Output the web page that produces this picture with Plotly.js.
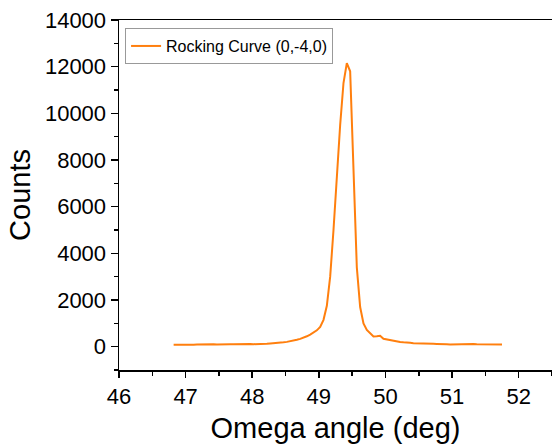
<!DOCTYPE html>
<html>
<head>
<meta charset="utf-8">
<script src="https://cdn.plot.ly/plotly-3.0.1.min.js"></script>
<style>html,body{margin:0;padding:0;background:#fff;}#chart{width:552px;height:447px;}</style>
</head>
<body>
<div id="chart"></div>
<script>
const seriesName = "Rocking Curve (0,-4,0)";
const omega = [46.82,46.87,46.92,46.97,47.02,47.07,47.12,47.17,47.22,47.27,47.32,47.37,47.42,47.47,47.52,47.57,47.62,47.67,47.72,47.77,47.82,47.87,47.92,47.97,48.02,48.07,48.12,48.17,48.22,48.27,48.32,48.37,48.42,48.47,48.52,48.57,48.62,48.67,48.72,48.77,48.82,48.87,48.92,48.97,49.02,49.07,49.12,49.17,49.22,49.27,49.32,49.37,49.42,49.47,49.52,49.57,49.62,49.67,49.72,49.77,49.82,49.87,49.92,49.97,50.02,50.07,50.12,50.17,50.22,50.27,50.32,50.37,50.42,50.47,50.52,50.57,50.62,50.67,50.72,50.77,50.82,50.87,50.92,50.97,51.02,51.07,51.12,51.17,51.22,51.27,51.32,51.37,51.42,51.47,51.52,51.57,51.62,51.67,51.72,51.75];
const counts = [85,80,92,88,95,85,78,88,95,90,100,96,102,95,104,100,94,105,100,108,104,100,112,115,108,104,116,125,120,132,140,152,168,185,205,228,258,295,335,385,445,520,600,700,850,1150,1750,3000,5000,7300,9500,11300,12150,11800,7600,3400,1700,1000,720,560,440,445,470,340,310,270,250,230,200,185,160,165,150,140,145,130,125,130,120,115,120,105,100,95,100,110,100,95,105,125,110,100,95,90,95,100,90,92,88,90];
const xTickVals = [46,47,48,49,50,51,52];
const yTickVals = [0,2000,4000,6000,8000,10000,12000,14000];

const font = "Liberation Sans, Arial, sans-serif";
const trace = {
  x: omega, y: counts, type: 'scatter', mode: 'lines', name: seriesName,
  line: {color: '#ff7f0e', width: 2}
};
const layout = {
  width: 552, height: 447,
  margin: {l: 119, r: 0, t: 20, b: 77},
  paper_bgcolor: '#fff', plot_bgcolor: '#fff',
  font: {family: font, color: '#000'},
  showlegend: true,
  legend: {
    x: 0.014, y: 0.977, xanchor: 'left', yanchor: 'top',
    bordercolor: '#999', borderwidth: 1, bgcolor: '#fff',
    font: {family: font, size: 16, color: '#000'},
    tracegroupgap: 0
  },
  xaxis: {
    range: [46, 52.5], tickvals: xTickVals, ticks: 'outside', ticklen: 6, tickwidth: 1.5,
    tickcolor: '#000', showline: true, linecolor: '#000', linewidth: 1.5, mirror: true,
    showgrid: false, zeroline: false,
    minor: {dtick: 0.5, ticks: 'outside', ticklen: 4, tickwidth: 1.5, tickcolor: '#000', showgrid: false},
    tickfont: {family: font, size: 22, color: '#000'},
    title: {text: 'Omega angle (deg)', font: {family: font, size: 29, color: '#000'}, standoff: 10}
  },
  yaxis: {
    range: [-1000, 14000], tickvals: yTickVals, tickformat: 'd', ticks: 'outside', ticklen: 7, tickwidth: 1.5,
    tickcolor: '#000', showline: true, linecolor: '#000', linewidth: 1.5, mirror: true,
    showgrid: false, zeroline: false,
    minor: {dtick: 1000, ticks: 'outside', ticklen: 4, tickwidth: 1.5, tickcolor: '#000', showgrid: false},
    tickfont: {family: font, size: 22, color: '#000'},
    title: {text: 'Counts', font: {family: font, size: 29, color: '#000'}, standoff: 6}
  }
};
Plotly.newPlot('chart', [trace], layout, {displayModeBar: false, staticPlot: true});
</script>
</body>
</html>
